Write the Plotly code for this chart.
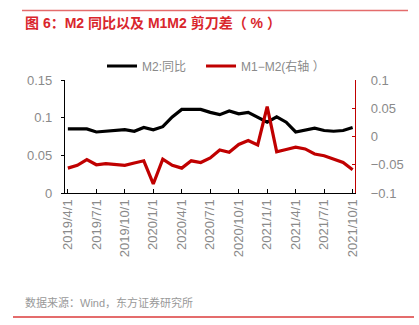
import plotly.graph_objects as go

months = ["2019/4/1", "2019/5/1", "2019/6/1", "2019/7/1", "2019/8/1", "2019/9/1",
          "2019/10/1", "2019/11/1", "2019/12/1", "2020/1/1", "2020/2/1", "2020/3/1",
          "2020/4/1", "2020/5/1", "2020/6/1", "2020/7/1", "2020/8/1", "2020/9/1",
          "2020/10/1", "2020/11/1", "2020/12/1", "2021/1/1", "2021/2/1", "2021/3/1",
          "2021/4/1", "2021/5/1", "2021/6/1", "2021/7/1", "2021/8/1", "2021/9/1",
          "2021/10/1"]
m2_yoy = [0.085, 0.085, 0.085, 0.081, 0.082, 0.084, 0.084, 0.082, 0.087, 0.084, 0.088,
          0.101, 0.111, 0.111, 0.111, 0.107, 0.104, 0.109, 0.105, 0.107, 0.101, 0.094,
          0.101, 0.094, 0.081, 0.083, 0.086, 0.083, 0.082, 0.083, 0.087]
m1_m2 = [-0.056, -0.051, -0.041, -0.050, -0.048, -0.050, -0.051, -0.047, -0.043, -0.084,
         -0.040, -0.051, -0.056, -0.043, -0.046, -0.038, -0.024, -0.028, -0.014, -0.007,
         -0.015, 0.053, -0.027, -0.023, -0.019, -0.022, -0.031, -0.034, -0.040, -0.046,
         -0.059]
tick_every = 3

idx = list(range(len(months)))
tickvals = idx[::tick_every]
ticktext = months[::tick_every]

FONT = "Liberation Sans, Noto Sans CJK SC, sans-serif"
GRAY = "#8a8a8a"
L, R, T, B = 65, 64, 80, 132
W, H = 419, 325
pw, ph = W - L - R, H - T - B


def px(x):
    return (x - L) / pw


def py(y):
    return (H - B - y) / ph


fig = go.Figure()
fig.add_trace(go.Scatter(x=idx, y=m2_yoy, name="M2:同比\u00a0\u00a0\u00a0", mode="lines",
                         line=dict(color="#000000", width=3.2)))
fig.add_trace(go.Scatter(x=idx, y=m1_m2, name="M1−M2(右轴 ）", mode="lines",
                         line=dict(color="#c00000", width=3.2), yaxis="y2"))

fig.update_layout(
    width=W, height=H,
    margin=dict(l=L, r=R, t=T, b=B),
    paper_bgcolor="white", plot_bgcolor="white",
    font=dict(family=FONT, color=GRAY, size=13),
    showlegend=True,
    legend=dict(orientation="h", x=px(102), y=py(66), xanchor="left", yanchor="middle",
                font=dict(size=12, color=GRAY), bgcolor="rgba(0,0,0,0)",
                itemwidth=30, tracegroupgap=0),
    xaxis=dict(range=[-0.3, 30.25], tickmode="array", tickvals=tickvals, ticktext=ticktext,
               tickangle=-90, showgrid=False, zeroline=False, showline=True,
               linecolor="#000000", linewidth=1.3, ticks="inside", ticklen=4,
               tickcolor="#000000", tickfont=dict(size=13, color=GRAY)),
    yaxis=dict(range=[0, 0.15], dtick=0.05, showgrid=False, zeroline=False, showline=True,
               linecolor="#000000", linewidth=1.3, ticks="outside", ticklen=3,
               tickcolor="#000000", tickfont=dict(size=13, color=GRAY), ticklabelstandoff=6),
    yaxis2=dict(range=[-0.1, 0.1], dtick=0.05, overlaying="y", side="right",
                showgrid=False, zeroline=False, showline=True, linecolor="#c00000",
                linewidth=1.3, ticks="inside", ticklen=3, tickcolor="#c00000",
                tickfont=dict(size=13, color=GRAY), ticklabelstandoff=12),
)

fig.add_shape(type="line", xref="paper", yref="paper", x0=px(22), x1=px(408),
              y0=py(10.5), y1=py(10.5), line=dict(color="#e46c6c", width=1.5))
fig.add_shape(type="line", xref="paper", yref="paper", x0=px(13), x1=px(414),
              y0=py(317), y1=py(317), line=dict(color="#e46c6c", width=2))

fig.add_annotation(text="<b>图 6：M2 同比以及 M1M2 剪刀差（ % ）</b>", xref="paper", yref="paper",
                   x=px(23), y=py(23), xanchor="left", yanchor="middle", showarrow=False,
                   font=dict(size=14, color="#d9262c", family=FONT))
fig.add_annotation(text="数据来源：Wind，东方证券研究所", xref="paper", yref="paper",
                   x=px(23), y=py(302), xanchor="left", yanchor="middle", showarrow=False,
                   font=dict(size=11, color="#999999", family=FONT))

fig.write_html("out.html")
